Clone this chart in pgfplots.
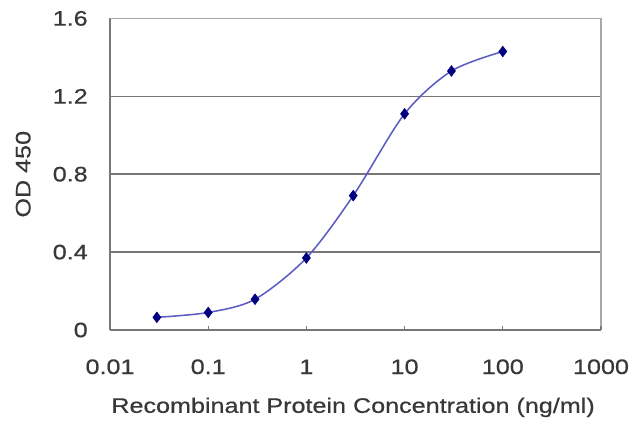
\documentclass[border=0pt]{standalone}
\usepackage{pgfplots}
\pgfplotsset{compat=1.18}
\usepackage{fontspec}
\setmainfont{Liberation Sans}[FakeStretch=1.2, FakeBold=0.6]

\definecolor{txt}{HTML}{383838}
\definecolor{gridc}{HTML}{777777}
\definecolor{framec}{HTML}{A8A8A8}
\definecolor{curve}{HTML}{5C5CC4}
\definecolor{dot}{HTML}{00007F}

\begin{document}
\begin{tikzpicture}
\begin{axis}[
    at={(0,0)}, anchor=south west,
    scale only axis,
    width=12.275cm,
    height=7.79cm,
    xmode=log,
    xmin=0.01, xmax=1000,
    ymin=0, ymax=1.6,
    xtick={0.01,0.1,1,10,100},
    xticklabels={0.01,0.1,1,10,100},
    extra x ticks={1000},
    extra x tick labels={1000},
    extra x tick style={grid=major, major grid style={draw=framec, line width=1.1pt}},
    ytick={0,0.4,0.8,1.2},
    yticklabels={0,0.4,0.8,1.2},
    extra y ticks={1.6},
    extra y tick labels={1.6},
    extra y tick style={grid=major, major grid style={draw=framec, line width=1.1pt}},
    xminorticks=false,
    ymajorgrids=true,
    grid style={draw=gridc, line width=1.1pt},
    axis lines=left,
    axis line style={-, draw=gridc, line width=1.1pt},
    major tick length=0.1cm,
    xtick style={draw=gridc, line width=0.8pt},
    ytick style={draw=none},
    tick align=inside,
    font=\fontsize{14.9}{17}\selectfont,
    tick label style={text=txt},
    xticklabel style={anchor=base, yshift=-1.1cm},
    yticklabel style={anchor=east, inner sep=0pt, xshift=-0.55cm},
    xlabel={Recombinant Protein Concentration (ng/ml)},
    ylabel={OD 450},
    every axis x label/.style={at={(rel axis cs:0.5,0)}, anchor=base, xshift=-0.06cm, yshift=-2.07cm, text=txt},
    every axis y label/.style={at={(rel axis cs:0,0.5)}, anchor=center, xshift=-2.17cm, rotate=90, text=txt},
]
\addplot[
    curve, line width=1.1pt, smooth,
    mark=diamond*, mark size=3.8pt,
    mark options={draw=dot, fill=dot, line width=0.4pt}
    ]
    coordinates {
        (0.03, 0.065)
        (0.1,  0.090)
        (0.3,  0.158)
        (1,    0.370)
        (3,    0.690)
        (10,   1.110)
        (30,   1.330)
        (100,  1.430)
};
\end{axis}
\pgfresetboundingbox
\path[use as bounding box] (-2.75cm,-2.425cm) rectangle (13.25cm,8.25cm);
\end{tikzpicture}
\end{document}
